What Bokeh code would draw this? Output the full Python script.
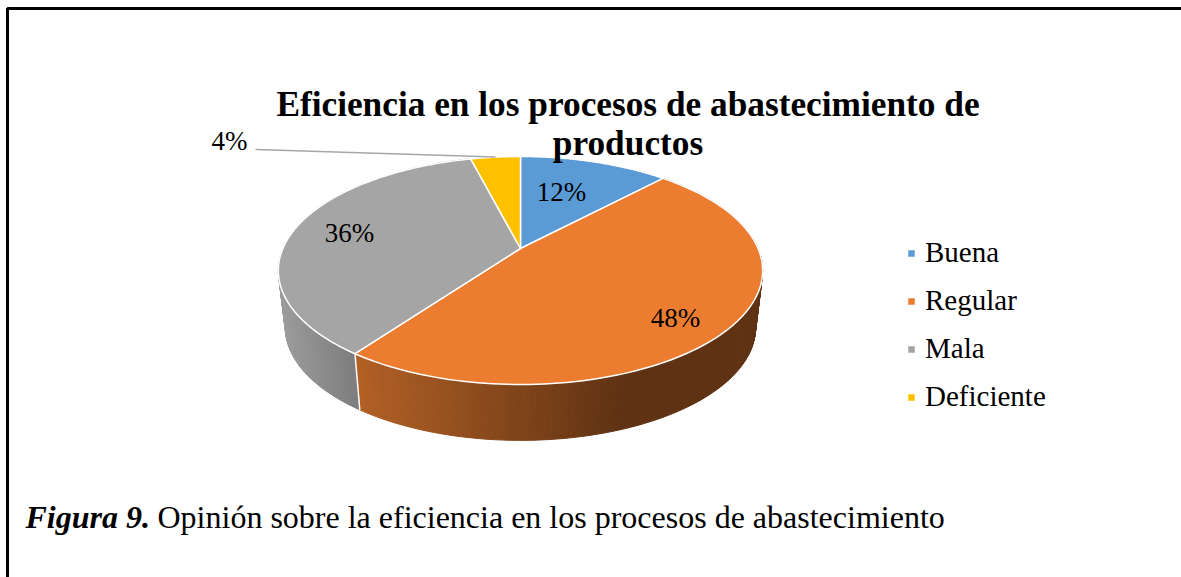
import numpy as np
from bokeh.core.properties import value
from bokeh.embed import file_html
from bokeh.models import Legend, LegendItem, Range1d
from bokeh.plotting import figure
from bokeh.resources import INLINE

TITLE_LINES = ["Eficiencia en los procesos de abastecimiento de", "productos"]
CATEGORIES = ["Buena", "Regular", "Mala", "Deficiente"]
VALUES = [12, 48, 36, 4]
COLORS = ["#5b9bd5", "#ec7c30", "#a5a5a5", "#ffc000"]
LABELS = ["12%", "48%", "36%", "4%"]
CAPTION_BOLD = "Figura 9."
CAPTION_TEXT = "Opinión sobre la eficiencia en los procesos de abastecimiento"
SERIF = value("Liberation Serif")

W, H = 1181, 577
p = figure(width=W, height=H, x_range=Range1d(0, W), y_range=Range1d(H, 0),
           output_backend="svg", toolbar_location=None, min_border=0,
           outline_line_color=None, background_fill_color="white")
p.axis.visible = False
p.grid.visible = False
p.styles = {"position": "absolute", "left": "0px", "top": "0px"}


def top_xy(theta):
    """Perspective projection of the pie's top face; theta clockwise from 12 o'clock."""
    u, v = np.sin(theta), np.cos(theta)
    d = 0.193 * v + 1
    return 520 + 237.6 * u / d, (248 - 61.9 * v) / d


def bottom_xy(theta):
    x, y = top_xy(theta)
    return 520 + (x - 520) * 0.971, 327 + (y - 270) * 0.99


def mix(c0, c1, t):
    a = [int(c0[i:i + 2], 16) for i in (1, 3, 5)]
    b = [int(c1[i:i + 2], 16) for i in (1, 3, 5)]
    return "#%02x%02x%02x" % tuple(round(a[i] + (b[i] - a[i]) * t) for i in range(3))


total = sum(VALUES)
edges = np.cumsum([0] + VALUES) / total * 2 * np.pi

# side walls
for idx, c0, c1, x0, x1 in [(2, "#9c9c9c", "#7c7c7c", 285, 360),
                            (1, "#b26025", "#5f3213", 360, 620)]:
    th = np.linspace(edges[idx], edges[idx + 1], 161)
    xs, ys, cols = [], [], []
    for a, b in zip(th[:-1], th[1:]):
        xa, ya = top_xy(a)
        xb, yb = top_xy(b)
        xc, yc = bottom_xy(b)
        xd, yd = bottom_xy(a)
        xs.append([xa, xb, xc, xd])
        ys.append([ya, yb, yc, yd])
        t = np.clip(((xc + xd) / 2 - x0) / (x1 - x0), 0, 1)
        cols.append(mix(c0, c1, t))
    p.patches(xs, ys, fill_color=cols, line_color=cols, line_width=1)

# wall seam between Regular and Mala
xa, ya = top_xy(edges[2])
xb, yb = bottom_xy(edges[2])
p.line([xa, xb], [ya, yb], line_color="white", line_width=1.5)

# top faces
items = []
for i, cat in enumerate(CATEGORIES):
    th = np.linspace(edges[i], edges[i + 1], 120)
    x, y = top_xy(th)
    r = p.patch(np.r_[520, x], np.r_[248, y], fill_color=COLORS[i],
                line_color="white", line_width=1.5, line_join="round")
    items.append(LegendItem(label=cat, renderers=[r]))

# leader line of the 4% label
mid = (edges[3] + edges[4]) / 2
p.line([255, top_xy(mid)[0]], [149, top_xy(mid)[1]], line_color="#a6a6a6", line_width=1.5)

# data labels
p.text([561, 675, 349, 229], [191, 317.5, 232.5, 140], text=LABELS, text_font=SERIF,
       text_font_size="27px", text_align="center", text_baseline="alphabetic", text_color="black")

# title
p.text([627.5, 627.5], [104, 143], text=TITLE_LINES, text_font=SERIF, text_font_size="35.3px",
       text_font_style="bold", text_align="center", text_baseline="alphabetic", text_color="black")

# caption
p.text([25], [516], text=[CAPTION_BOLD], text_font=SERIF, text_font_size="32px",
       text_font_style="bold italic", text_baseline="alphabetic", text_color="black")
p.text([157], [516], text=[CAPTION_TEXT], text_font=SERIF, text_font_size="32px",
       text_baseline="alphabetic", text_color="black")

# frame: left and top edges only, the top one runs off the picture
p.line([7, 7, W], [H, 8, 8], line_color="black", line_width=3)

legend = Legend(items=items, location=(906, 164), orientation="vertical",
                glyph_width=10, glyph_height=10, label_standoff=9, label_height=28,
                spacing=15, padding=0, margin=0, border_line_color=None,
                background_fill_alpha=0, label_text_font="Liberation Serif",
                label_text_font_size="29px", label_text_color="black")
p.add_layout(legend)

open("out.html", "w").write(file_html(p, INLINE))
